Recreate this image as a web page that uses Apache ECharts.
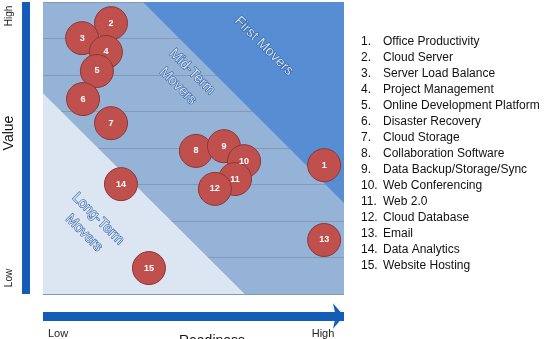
<!DOCTYPE html>
<html>
<head>
<meta charset="utf-8">
<script src="https://cdn.jsdelivr.net/npm/echarts@6/dist/echarts.min.js"></script>
<style>
  html, body { margin: 0; padding: 0; background: #fff; }
  #chart { width: 546px; height: 339px; }
</style>
</head>
<body>
<div id="chart"></div>
<script>
    // items, in legend order (bubble number = index + 1)
    const items = ['Office Productivity', 'Cloud Server', 'Server Load Balance', 'Project Management',
        'Online Development Platform', 'Disaster Recovery', 'Cloud Storage', 'Collaboration Software',
        'Data Backup/Storage/Sync', 'Web Conferencing', 'Web 2.0', 'Cloud Database', 'Email',
        'Data Analytics', 'Website Hosting'];
    // readiness 0..10, value 0..8
    const readiness = [9.34, 2.26, 1.30, 2.09, 1.79, 1.33, 2.26, 5.08, 6.01, 6.68, 6.38, 5.71, 9.34, 2.59, 3.52];
    const value = [3.53, 7.42, 7.01, 6.63, 6.11, 5.34, 4.68, 3.92, 4.05, 3.64, 3.15, 2.88, 1.48, 3.01, 0.71];
    const axisEnds = ['Low', 'High'];
    // zone corners in data units
    const longTermZone = [[0, 0], [0, 5.5], [6.7, 0]];
    const firstMoversZone = [[3.32, 8], [10, 8], [10, 2.49]];

    let chart = echarts.init(document.getElementById('chart'));

    function zone(points, fill) {
        return {
            type: 'custom',
            silent: true,
            data: [0],
            z: 1,
            renderItem: function (params, api) {
                return {
                    type: 'polygon',
                    shape: { points: points.map(p => api.coord(p)) },
                    style: { fill: fill }
                };
            }
        };
    }

    const zoneText = {
        fontFamily: 'Liberation Sans',
        fontSize: 14,
        fill: '#d4e3f6',
        stroke: '#1d4f94',
        lineWidth: 1,
        textAlign: 'center',
        textVerticalAlign: 'middle',
        lineHeight: 20
    };

    let legendText = items.map((n, i) => '{n|' + (i + 1) + '.}' + n).join('\n');

    let option = {
        animation: false,
        grid: {
            left: 43, top: 2, right: 202, bottom: 45,
            show: true, backgroundColor: '#95b3d7', borderWidth: 0
        },
        xAxis: {
            type: 'value', min: 0, max: 10,
            offset: 22,
            axisLine: {
                show: true,
                onZero: false,
                symbol: ['none', 'arrow'],
                symbolSize: [19, 11],
                lineStyle: { color: '#135cb8', width: 9, cap: 'butt' }
            },
            axisTick: { show: false },
            axisLabel: { show: false },
            splitLine: { show: false }
        },
        yAxis: {
            type: 'value', min: 0, max: 8, interval: 1,
            offset: 17,
            axisLine: { show: true, onZero: false, lineStyle: { color: '#135cb8', width: 8, cap: 'butt' } },
            axisTick: { show: false },
            axisLabel: { show: false },
            splitLine: { show: true, lineStyle: { color: '#8299b8', width: 1 } }
        },
        graphic: [
            { type: 'text', x: 9, y: 16, rotation: Math.PI / 2,
              style: { text: axisEnds[1], font: '10px Liberation Sans', fill: '#222', textAlign: 'center', textVerticalAlign: 'middle' } },
            { type: 'text', x: 9, y: 278, rotation: Math.PI / 2,
              style: { text: axisEnds[0], font: '10px Liberation Sans', fill: '#222', textAlign: 'center', textVerticalAlign: 'middle' } },
            { type: 'text', x: 9, y: 133, rotation: Math.PI / 2,
              style: { text: 'Value', font: '14px Liberation Sans', fill: '#111', textAlign: 'center', textVerticalAlign: 'middle' } },
            { type: 'text', x: 58, y: 334,
              style: { text: axisEnds[0], font: '11px Liberation Sans', fill: '#222', textAlign: 'center', textVerticalAlign: 'middle' } },
            { type: 'text', x: 323, y: 334,
              style: { text: axisEnds[1], font: '11px Liberation Sans', fill: '#222', textAlign: 'center', textVerticalAlign: 'middle' } },
            { type: 'text', x: 212, y: 341,
              style: { text: 'Readiness', font: '14px Liberation Sans', fill: '#111', textAlign: 'center', textVerticalAlign: 'middle' } },
            { type: 'text', x: 264, y: 46, rotation: -Math.PI / 4, z: 10,
              style: Object.assign({ text: 'First Movers' }, zoneText) },
            { type: 'text', x: 185, y: 79, rotation: -Math.PI / 4, z: 10,
              style: Object.assign({ text: 'Mid-Term\nMovers' }, zoneText) },
            { type: 'text', x: 91, y: 226, rotation: -Math.PI / 4, z: 10,
              style: Object.assign({ text: 'Long-Term\nMovers' }, zoneText) },
            { type: 'text', x: 361, y: 34,
              style: {
                  text: legendText,
                  font: '12px Liberation Sans',
                  fill: '#111',
                  lineHeight: 16,
                  rich: { n: { width: 22, fontSize: 12, fontFamily: 'Liberation Sans', lineHeight: 16 } }
              } }
        ],
        series: [
            zone(longTermZone, '#dce6f2'),
            zone(firstMoversZone, '#568dd3'),
            {
                type: 'scatter',
                z: 5,
                symbolSize: 33,
                data: readiness.map((x, i) => [x, value[i]]),
                itemStyle: { color: '#c0504d', borderColor: '#8c3836', borderWidth: 1, opacity: 1 },
                label: {
                    show: true,
                    position: 'inside',
                    formatter: p => String(p.dataIndex + 1),
                    color: '#fff',
                    fontSize: 9,
                    fontWeight: 'bold',
                    fontFamily: 'Liberation Sans'
                }
            }
        ]
    };
    chart.setOption(option);
</script>
</body>
</html>
